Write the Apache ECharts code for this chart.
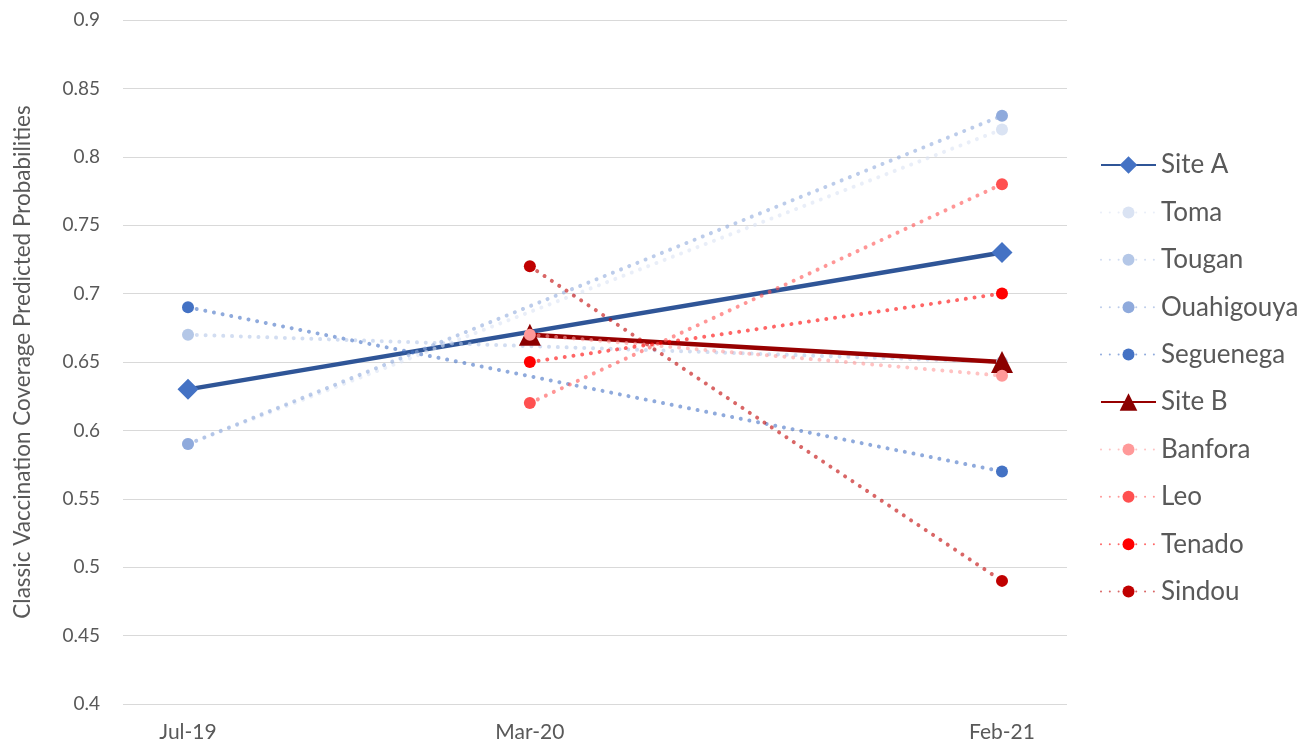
<!DOCTYPE html>
<html>
<head>
<meta charset="utf-8">
<title>Classic Vaccination Coverage Predicted Probabilities</title>
<script src="https://cdn.jsdelivr.net/npm/echarts@6/dist/echarts.min.js"></script>
<style>
  html, body { margin: 0; padding: 0; background: #ffffff; }
  #chart { width: 1312px; height: 747px; }
</style>
</head>
<body>
<div id="chart"></div>
<script>
// Survey rounds (first day of each month) and their axis labels
const periods = ['2019-07-01', '2020-03-01', '2021-02-01'];
const periodLabels = ['Jul-19', 'Mar-20', 'Feb-21'];

// Predicted probabilities per round (null = not surveyed)
const siteA      = [0.63, null, 0.73];
const toma       = [0.59, null, 0.82];
const tougan     = [0.67, null, 0.65];
const ouahigouya = [0.59, null, 0.83];
const seguenega  = [0.69, null, 0.57];
const siteB      = [null, 0.67, 0.65];
const banfora    = [null, 0.67, 0.64];
const leo        = [null, 0.62, 0.78];
const tenado     = [null, 0.65, 0.70];
const sindou     = [null, 0.72, 0.49];

const yTicks = [0.4, 0.45, 0.5, 0.55, 0.6, 0.65, 0.7, 0.75, 0.8, 0.85, 0.9];

// Day offsets from the first round, so the x axis is a true date scale
const DAY = 86400000;
const t0 = Date.parse(periods[0] + 'T00:00:00Z');
const dayOf = periods.map(p => Math.round((Date.parse(p + 'T00:00:00Z') - t0) / DAY));
const pad = 46.4;

function pairs(values) {
  const out = [];
  values.forEach((v, i) => { if (v !== null) out.push([dayOf[i], v]); });
  return out;
}

const FONT = 'Lato, "Open Sans", sans-serif';
const TEXT = '#595959';

function solidSeries(name, values, symbol, size, lineColor, markColor) {
  return {
    name, type: 'line', data: pairs(values),
    symbol, symbolSize: size,
    itemStyle: { color: markColor },
    lineStyle: { color: lineColor, width: 4.5, type: 'solid' },
    emphasis: { disabled: true }, animation: false
  };
}

function dottedSeries(name, values, color) {
  return {
    name, type: 'line', data: pairs(values),
    symbol: 'circle', symbolSize: 12,
    itemStyle: { color },
    lineStyle: { color, opacity: 0.6, width: 4, type: [0.01, 8.8], cap: 'round' },
    emphasis: { disabled: true }, animation: false
  };
}

const series = [
  solidSeries('Site A', siteA, 'diamond', 21, '#2f5597', '#4472c4'),
  dottedSeries('Toma', toma, '#dae3f3'),
  dottedSeries('Tougan', tougan, '#b4c7e7'),
  dottedSeries('Ouahigouya', ouahigouya, '#8faadc'),
  dottedSeries('Seguenega', seguenega, '#4472c4'),
  solidSeries('Site B', siteB, 'triangle', 22, '#970000', '#8b0000'),
  dottedSeries('Banfora', banfora, '#ff9999'),
  dottedSeries('Leo', leo, '#ff5050'),
  dottedSeries('Tenado', tenado, '#ff0000'),
  dottedSeries('Sindou', sindou, '#c00000')
];

// Legend blocks: diamond/triangle rows use a taller icon than the circle rows
const ROW = 47.4;
const TEXT_H = 26;
function legendBlock(names, firstRow, iconH) {
  return {
    data: names, orient: 'vertical', left: 1100,
    top: 165 + ROW * firstRow - TEXT_H / 2,
    padding: 0, itemWidth: 55, itemHeight: iconH, itemGap: ROW - TEXT_H,
    selectedMode: false, inactiveColor: TEXT,
    textStyle: { color: TEXT, fontFamily: FONT, fontSize: 26, lineHeight: TEXT_H }
  };
}

const chart = echarts.init(document.getElementById('chart'), null, { renderer: 'canvas' });
chart.setOption({
  backgroundColor: '#ffffff',
  animation: false,
  textStyle: { fontFamily: FONT },
  grid: { left: 123, right: 245, top: 20, bottom: 43, containLabel: false },
  legend: [
    legendBlock(['Site A'], 0, 22),
    legendBlock(['Toma', 'Tougan', 'Ouahigouya', 'Seguenega'], 1, 15),
    legendBlock(['Site B'], 5, 22),
    legendBlock(['Banfora', 'Leo', 'Tenado', 'Sindou'], 6, 15)
  ],
  xAxis: {
    type: 'value',
    min: dayOf[0] - pad,
    max: dayOf[dayOf.length - 1] + pad,
    axisLine: { show: false },
    axisTick: { show: false },
    splitLine: { show: false },
    axisLabel: {
      customValues: dayOf,
      formatter: v => periodLabels[dayOf.indexOf(Math.round(v))] || '',
      color: TEXT, fontFamily: FONT, fontSize: 21, margin: 18
    }
  },
  yAxis: {
    type: 'value',
    min: yTicks[0], max: yTicks[yTicks.length - 1], interval: 0.05,
    name: 'Classic Vaccination Coverage Predicted Probabilities',
    nameLocation: 'middle', nameRotate: 90, nameGap: 89,
    nameTextStyle: { color: TEXT, fontFamily: FONT, fontSize: 22.5 },
    axisLine: { show: false },
    axisTick: { show: false },
    splitLine: { lineStyle: { color: '#d9d9d9', width: 1 } },
    axisLabel: {
      color: TEXT, fontFamily: FONT, fontSize: 19, margin: 23,
      formatter: v => String(+v.toFixed(2))
    }
  },
  series
});
</script>
</body>
</html>
